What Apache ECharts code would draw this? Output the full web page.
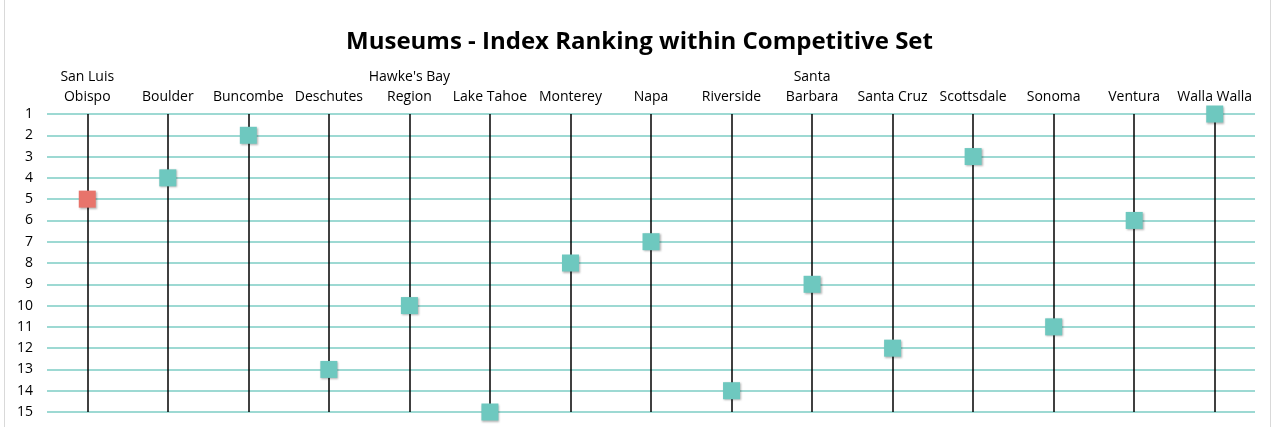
<!DOCTYPE html>
<html>
<head>
<meta charset="utf-8">
<script src="https://cdn.jsdelivr.net/npm/echarts@6/dist/echarts.min.js"></script>
<style>
	html,body{margin:0;padding:0;background:#fff;}
	#main{width:1279px;height:427px;}
</style>
</head>
<body>
<div id="main"></div>
<script>
var regions = ['San Luis\nObispo', 'Boulder', 'Buncombe', 'Deschutes', 'Hawke\'s Bay\nRegion', 'Lake Tahoe', 'Monterey', 'Napa', 'Riverside', 'Santa\nBarbara', 'Santa Cruz', 'Scottsdale', 'Sonoma', 'Ventura', 'Walla Walla'];
var ranks = [5, 4, 2, 13, 10, 15, 8, 7, 14, 9, 12, 3, 11, 6, 1];
var highlight = 'San Luis\nObispo';

var chart = echarts.init(document.getElementById('main'));

// 点数据，高亮的地区用红色
var points = [];
for (var i = 0; i < regions.length; i++) {
	points.push({
		value: [regions[i], ranks[i]],
		itemStyle: { color: regions[i] == highlight ? '#e8746b' : '#6ec8bf' }
	});
}
// 每个地区一条竖线
var vlines = [];
for (var i = 0; i < regions.length; i++) {
	vlines.push({ xAxis: regions[i] });
}

chart.setOption({
	textStyle: { fontFamily: 'Open Sans' },
	title: {
		text: 'Museums - Index Ranking within Competitive Set',
		left: 'center',
		top: 25,
		textStyle: { fontSize: 24, fontWeight: 'bold', color: '#000', fontFamily: 'Open Sans' }
	},
	graphic: [{
		type: 'rect',
		shape: { x: 4.5, y: -1, width: 1266, height: 430 },
		style: { fill: 'none', stroke: '#d9d9d9', lineWidth: 1 },
		silent: true
	}],
	grid: { left: 47, right: 24, top: 114, bottom: 15 },
	xAxis: {
		type: 'category',
		position: 'top',
		data: regions,
		axisLine: { show: false },
		axisTick: { show: false },
		splitLine: { show: false },
		axisLabel: { color: '#000', fontSize: 14, lineHeight: 20, margin: 7, interval: 0 }
	},
	yAxis: {
		type: 'value',
		inverse: true,
		min: 1,
		max: 15,
		interval: 1,
		axisLine: { show: false },
		axisTick: { show: false },
		splitLine: { lineStyle: { color: '#7dcdc4', width: 1.5 } },
		axisLabel: { color: '#000', fontSize: 14, margin: 14 }
	},
	series: [
		{
			type: 'scatter',
			data: [],
			z: 1,
			markLine: {
				silent: true,
				z: 1,
				symbol: 'none',
				label: { show: false },
				lineStyle: { color: '#000', width: 1.5, type: 'solid' },
				data: vlines
			}
		},
		{
			type: 'scatter',
			z: 10,
			symbol: 'rect',
			symbolSize: 17,
			itemStyle: { opacity: 1, shadowBlur: 2, shadowColor: 'rgba(0,0,0,0.3)', shadowOffsetX: 1, shadowOffsetY: 1 },
			data: points
		}
	]
});
</script>
</body>
</html>
